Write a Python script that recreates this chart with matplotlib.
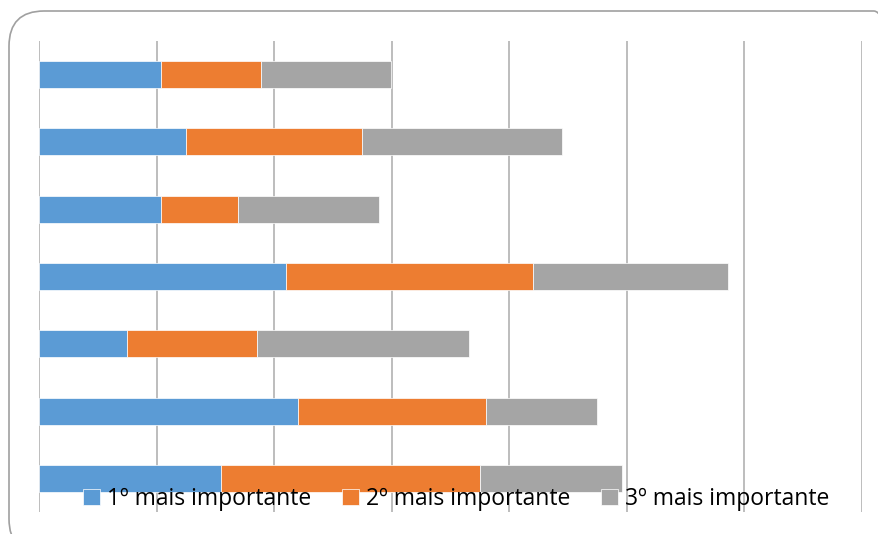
import matplotlib
matplotlib.use('Agg')
import matplotlib.pyplot as plt
from matplotlib.patches import FancyBboxPatch
import numpy as np

# values (grid step = 5), top bar first
categories = ['A', 'B', 'C', 'D', 'E', 'F', 'G']
primeiro = [5.2, 6.25, 5.2, 10.5, 3.75, 11.0, 7.75]
segundo = [4.25, 7.5, 3.25, 10.5, 5.5, 8.0, 11.0]
terceiro = [5.5, 8.5, 6.0, 8.3, 9.05, 4.75, 6.05]
series_names = ['1º mais importante', '2º mais importante', '3º mais importante']
colors = ['#5B9BD5', '#ED7D31', '#A5A5A5']

plt.rcParams['font.family'] = ['Open Sans', 'DejaVu Sans']

W, H = 879, 534
fig = plt.figure(figsize=(W / 100, H / 100), dpi=100)
fig.patch.set_facecolor('white')

# rounded chart border (partly outside the canvas, like the crop)
border = FancyBboxPatch((9 / W, -20 / H), 900 / W, (534 - 11 + 20) / H,
                        boxstyle='round,pad=0,rounding_size=0.04',
                        transform=fig.transFigure, facecolor='none',
                        edgecolor='#A0A0A0', linewidth=1.2, mutation_aspect=W / H)
fig.patches.append(border)

ax = fig.add_axes([39 / W, 1 - 512 / H, (862 - 39) / W, (512 - 41) / H])
y = np.arange(len(categories))
left = np.zeros(len(categories))
for vals, name, c in zip([primeiro, segundo, terceiro], series_names, colors):
    ax.barh(y, vals, left=left, height=0.4, color=c, label=name,
            edgecolor='white', linewidth=0.5, zorder=3)
    left += np.array(vals)

ax.set_xlim(0, 35)
ax.set_ylim(len(categories) - 0.5, -0.5)
ax.set_xticks(np.arange(0, 36, 5))
ax.set_yticks([])
ax.tick_params(length=0, labelbottom=False)
ax.grid(axis='x', color='#ABABAB', linewidth=1.1, zorder=0)
for s in ax.spines.values():
    s.set_visible(False)
ax.set_facecolor('none')

leg = fig.legend(loc='center', bbox_to_anchor=(0.519, 1 - 499 / H), ncol=3,
                 frameon=False, fontsize=16.5, handlelength=0.75, handleheight=0.75,
                 handletextpad=0.3, columnspacing=1.35, borderaxespad=0)

fig.savefig('out.png', dpi=100)
